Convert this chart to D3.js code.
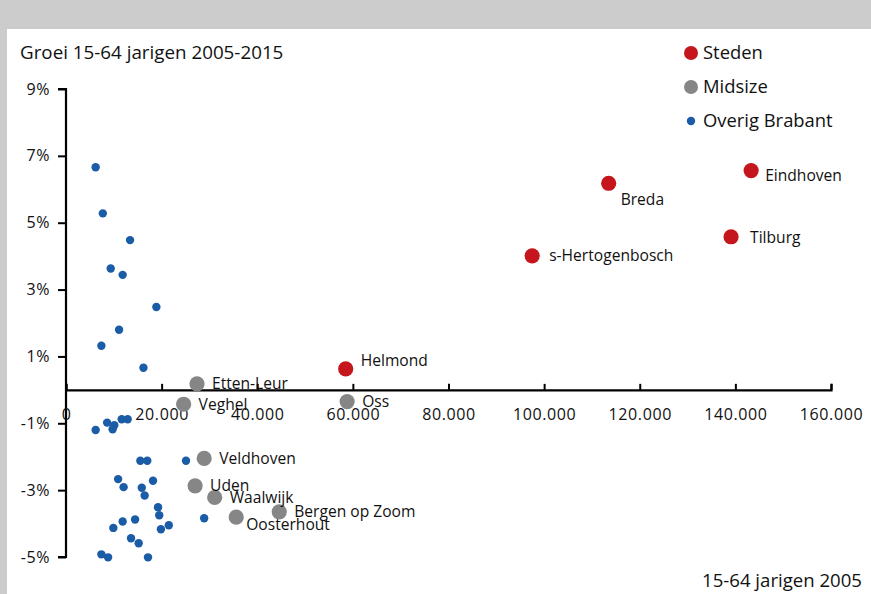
<!DOCTYPE html>
<html>
<head>
<meta charset="utf-8">
<script src="https://cdn.jsdelivr.net/npm/d3@7"></script>
<style>
  html, body { margin: 0; padding: 0; background: #fff; }
  svg { display: block; font-family: "Open Sans", "Noto Sans", sans-serif; }
</style>
</head>
<body>
<svg id="chart" width="871" height="594"></svg>
<script>
// Large cities ("Steden"): working-age population 2005 and growth 2005-2015 (%)
const stedenNames  = ["Eindhoven", "Breda", "Tilburg", "s-Hertogenbosch", "Helmond"];
const stedenPop    = [143300, 113500, 139100, 97500, 58500];
const stedenGrowth = [6.56, 6.18, 4.58, 4.01, 0.63];

// Mid-sized municipalities
const midsizeNames  = ["Etten-Leur", "Veghel", "Oss", "Veldhoven", "Uden", "Waalwijk", "Bergen op Zoom", "Oosterhout"];
const midsizePop    = [27400, 24600, 58800, 28900, 27000, 31100, 44600, 35600];
const midsizeGrowth = [0.18, -0.43, -0.35, -2.05, -2.87, -3.22, -3.65, -3.81];

// Remaining municipalities of Brabant (unlabelled)
const overigPop = [6200, 7700, 13400, 9350, 11850, 18900, 11100, 7400, 16200,
  6200, 8600, 10100, 9750, 11650, 12900, 15550, 17000, 25100, 10900, 12050,
  18200, 15850, 16450, 19250, 19500, 11850, 14450, 9900, 19850, 21500, 13600,
  15200, 7400, 8800, 17150, 28900];
const overigGrowth = [6.66, 5.28, 4.48, 3.63, 3.44, 2.48, 1.80, 1.32, 0.66,
  -1.20, -0.98, -1.06, -1.18, -0.88, -0.88, -2.12, -2.12, -2.12, -2.67, -2.91,
  -2.72, -2.93, -3.16, -3.51, -3.75, -3.94, -3.88, -4.13, -4.17, -4.05, -4.44,
  -4.59, -4.92, -5.01, -5.01, -3.84];

// Axis ticks
const xTicks = [0, 20000, 40000, 60000, 80000, 100000, 120000, 140000, 160000];
const yTicks = [-5, -3, -1, 1, 3, 5, 7, 9];

const legendLabels = ["Steden", "Midsize", "Overig Brabant"];
const chartTitle = "Groei 15-64 jarigen 2005-2015";
const xTitle = "15-64 jarigen 2005";

// Label placement tweaks (pixels from the point), default is to the right
const labelShift = {
  "Eindhoven": [14, 5], "Breda": [12, 16], "Tilburg": [19, 1],
  "s-Hertogenbosch": [17, 0], "Helmond": [15, -8], "Oosterhout": [10, 7]
};

const colors = { steden: "#c4161c", midsize: "#868686", overig: "#1b5ca6" };

const svg = d3.select("#chart");

// Frame: grey band on top and a grey strip down the left side
svg.append("rect").attr("x", 0).attr("y", 0).attr("width", 871).attr("height", 29).attr("fill", "#cccccc");
svg.append("rect").attr("x", 0).attr("y", 29).attr("width", 7).attr("height", 565).attr("fill", "#cccccc");

const x = d3.scaleLinear().domain([0, 160000]).range([66, 831]);
const y = d3.scaleLinear().domain([-5, 9]).range([557, 89]);

const nl = d3.formatLocale({ decimal: ",", thousands: ".", grouping: [3], currency: ["", ""] });
const fmtX = nl.format(",");

// Y axis on the left, ticks on odd percentages
const yAxis = svg.append("g")
  .attr("transform", `translate(${x(0)},0)`)
  .call(d3.axisLeft(y).tickValues(yTicks).tickSize(8).tickPadding(8)
    .tickFormat(d => String(d) + "%"));
yAxis.select(".domain").attr("stroke", "#000").attr("stroke-width", 2.2).attr("d", `M-8,${y(9)}H0V${y(-5)}H-8`);
yAxis.selectAll(".tick line").attr("stroke", "#000").attr("stroke-width", 2);
yAxis.selectAll(".tick text").attr("font-size", 16).attr("letter-spacing", 0.6).attr("fill", "#111")
  .attr("font-family", "'Open Sans', sans-serif");

// X axis along 0%, ticks pointing up, labels below
const xAxis = svg.append("g")
  .attr("transform", `translate(0,${y(0)})`)
  .call(d3.axisBottom(x).tickValues(xTicks).tickSizeInner(-6).tickSizeOuter(-6).tickPadding(19)
    .tickFormat(fmtX));
xAxis.select(".domain").attr("stroke", "#000").attr("stroke-width", 2.2);
xAxis.selectAll(".tick line").attr("stroke", "#000").attr("stroke-width", 2);
xAxis.selectAll(".tick text").attr("font-size", 16).attr("letter-spacing", 0.6).attr("fill", "#111")
  .attr("font-family", "'Open Sans', sans-serif");

const steden = stedenNames.map((n, i) => ({ name: n, pop: stedenPop[i], g: stedenGrowth[i] }));
const midsize = midsizeNames.map((n, i) => ({ name: n, pop: midsizePop[i], g: midsizeGrowth[i] }));
const overig = overigPop.map((p, i) => ({ pop: p, g: overigGrowth[i] }));

// Small municipalities
svg.append("g").selectAll("circle").data(overig).join("circle")
  .attr("cx", d => x(d.pop)).attr("cy", d => y(d.g)).attr("r", 4.2)
  .attr("fill", colors.overig);

// Mid-sized and large, with their names
function labelled(data, color) {
  const g = svg.append("g");
  g.selectAll("circle").data(data).join("circle")
    .attr("cx", d => x(d.pop)).attr("cy", d => y(d.g)).attr("r", 7.6)
    .attr("fill", color);
  g.selectAll("text").data(data).join("text")
    .attr("x", d => x(d.pop) + (labelShift[d.name] || [15, 0])[0])
    .attr("y", d => y(d.g) + (labelShift[d.name] || [15, 0])[1])
    .attr("dy", "0.35em")
    .attr("font-size", 15.6).attr("fill", "#111")
    .text(d => d.name);
}
labelled(midsize, colors.midsize);
labelled(steden, colors.steden);

// Titles
svg.append("text").attr("x", 20).attr("y", 52).attr("dy", "0.35em")
  .attr("font-size", 18.8).attr("fill", "#111").text(chartTitle);
svg.append("text").attr("x", 862).attr("y", 580).attr("dy", "0.35em")
  .attr("text-anchor", "end").attr("font-size", 18.6).attr("fill", "#111").text(xTitle);

// Legend
const legendColors = [colors.steden, colors.midsize, colors.overig];
const legendR = [7, 7, 4.2];
const leg = svg.append("g").selectAll("g").data(legendLabels).join("g")
  .attr("transform", (d, i) => `translate(691,${53 + i * 34})`);
leg.append("circle").attr("r", (d, i) => legendR[i]).attr("fill", (d, i) => legendColors[i]);
leg.append("text").attr("x", 12).attr("dy", "0.35em").attr("font-size", 18.4).attr("fill", "#111")
  .text(d => d);
</script>
</body>
</html>
